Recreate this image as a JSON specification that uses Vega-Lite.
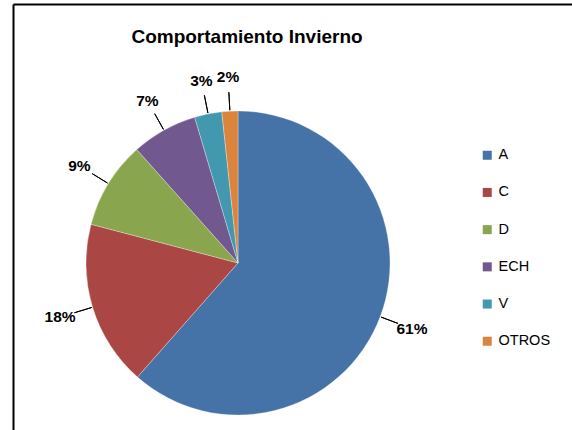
{
  "$schema": "https://vega.github.io/schema/vega-lite/v6.json",
  "width": 450,
  "height": 518,
  "autosize": {"type": "none"},
  "padding": {"left": 13, "top": 4, "right": 109, "bottom": 0},
  "background": "white",
  "config": {"view": {"stroke": null}, "font": "Liberation Sans"},
  "title": {
    "text": "Comportamiento Invierno",
    "orient": "top",
    "frame": "group",
    "anchor": "middle",
    "offset": -61,
    "baseline": "alphabetic",
    "dx": 9,
    "fontSize": 19,
    "fontWeight": "bold",
    "font": "Liberation Sans",
    "color": "black"
  },
  "data": {
    "values": [
      {"cat": "A", "value": 61.5, "label": "61%", "idx": 1},
      {"cat": "C", "value": 17.6, "label": "18%", "idx": 2},
      {"cat": "D", "value": 9.3, "label": "9%", "idx": 3},
      {"cat": "ECH", "value": 7.0, "label": "7%", "idx": 4},
      {"cat": "V", "value": 2.9, "label": "3%", "idx": 5},
      {"cat": "OTROS", "value": 1.7, "label": "2%", "idx": 6}
    ]
  },
  "layer": [
    {
      "data": {"values": [{}]},
      "mark": {"type": "point", "opacity": 0},
      "encoding": {
        "x": {
          "datum": 0,
          "type": "quantitative",
          "scale": {"domain": [0, 1], "range": [0, 600]},
          "axis": {"orient": "top", "domain": true, "domainColor": "black", "domainWidth": 2, "ticks": false, "labels": false, "grid": false, "title": null}
        },
        "y": {
          "datum": 0,
          "type": "quantitative",
          "scale": {"domain": [0, 1], "range": [0, 600]},
          "axis": {"orient": "left", "domain": true, "domainColor": "black", "domainWidth": 2, "ticks": false, "labels": false, "grid": false, "title": null}
        }
      }
    },
    {
      "mark": {"type": "arc", "outerRadius": 152, "stroke": "#ffffff", "strokeWidth": 0.5, "strokeOpacity": 0.6},
      "encoding": {
        "theta": {"field": "value", "type": "quantitative", "stack": true, "scale": {"domain": [0, 100]}},
        "order": {"field": "idx", "type": "quantitative"},
        "color": {
          "field": "cat",
          "type": "nominal",
          "scale": {
            "domain": ["A", "C", "D", "ECH", "V", "OTROS"],
            "range": ["#4572A7", "#AA4643", "#89A54E", "#71588F", "#4198AF", "#DB843D"]
          },
          "legend": {
            "orient": "none",
            "legendX": 467,
            "legendY": 144,
            "title": null,
            "symbolType": "square",
            "symbolSize": 81,
            "symbolStrokeWidth": 0,
            "labelFontSize": 14.5,
            "labelFont": "Liberation Sans",
            "labelColor": "black",
            "labelOffset": 4,
            "rowPadding": 22.2
          }
        }
      }
    },
    {
      "mark": {"type": "text", "radius": 186, "fontSize": 15.5, "fontWeight": "bold", "font": "Liberation Sans", "color": "black"},
      "encoding": {
        "theta": {"field": "value", "type": "quantitative", "stack": true},
        "order": {"field": "idx", "type": "quantitative"},
        "text": {"field": "label", "type": "nominal"}
      }
    },
    {
      "transform": [
        {"stack": "value", "groupby": [], "sort": [{"field": "idx"}], "as": ["s0", "s1"]},
        {"fold": ["s0", "s1"], "as": ["k", "ang"]},
        {"aggregate": [{"op": "mean", "field": "ang", "as": "mid"}], "groupby": ["cat"]}
      ],
      "mark": {"type": "arc", "radius": 171, "radius2": 153, "filled": false, "stroke": "black", "strokeWidth": 1},
      "encoding": {
        "theta": {"field": "mid", "type": "quantitative", "stack": null},
        "theta2": {"field": "mid"}
      }
    }
  ]
}
